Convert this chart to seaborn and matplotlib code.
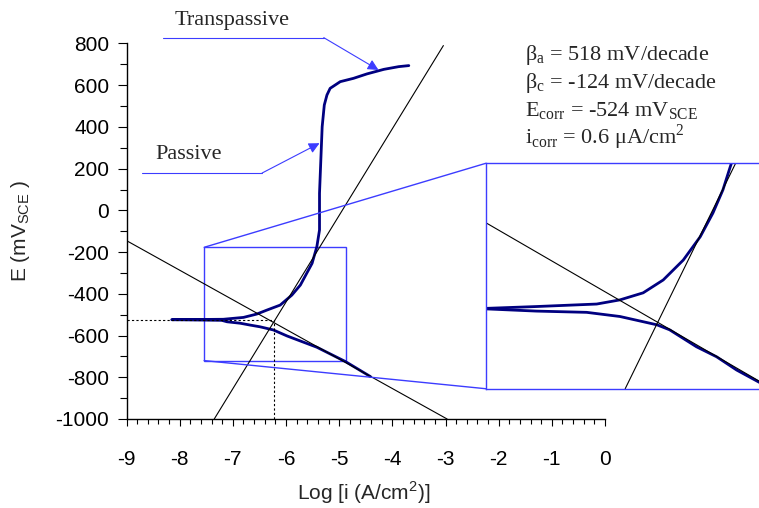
import seaborn as sns
import matplotlib.pyplot as plt
from matplotlib.patches import Rectangle, ConnectionPatch
from matplotlib.ticker import MultipleLocator

# Polarization curve (log i in A/cm2, E in mV SCE), cathodic branch then anodic
log_i = [-4.41, -4.88, -5.42, -5.98, -6.24, -6.49, -6.67, -6.86, -7.11, -7.21,
         -8.15, -7.18, -6.80, -6.55, -6.36, -6.11, -5.89, -5.73, -5.51, -5.42,
         -5.37, -5.37, -5.34, -5.32, -5.28, -5.23, -5.17, -4.98, -4.73, -4.48,
         -4.16, -3.88, -3.69]
potential = [-797, -725, -656, -602, -573, -558, -550, -541, -534, -527,
             -524, -522, -513, -497, -478, -454, -406, -358, -254, -174,
             -94, 82, 274, 401, 505, 553, 585, 617, 633, 654,
             676, 689, 694]

# Tafel lines as drawn
anodic_x = [-7.35, -3.04]
anodic_e = [-1000, 790]
cathodic_x = [-9.0, -2.97]
cathodic_e = [-145, -1000]

e_corr = -524
log_icorr = -6.22

# zoom box
zoom_x = [-7.54, -4.87]
zoom_e = [-720, -177]

# curves inside the magnified box
ins_cat_x = [-7.60, -7.06, -6.585, -6.27, -5.92, -5.80, -5.545, -5.355, -5.165, -4.955, -4.85]
ins_cat_e = [-527, -533, -536, -546, -566, -578, -619, -643, -675, -704, -718]
ins_ano_x = [-7.60, -7.06, -6.49, -6.27, -6.05, -5.86, -5.67, -5.51, -5.39, -5.295, -5.215, -5.19]
ins_ano_e = [-527, -522, -516, -506, -489, -458, -410, -354, -297, -241, -177, -160]
ins_cline_x = [-7.54, -4.80]
ins_cline_e = [-320, -724]
ins_aline_x = [-6.22, -5.175]
ins_aline_e = [-720, -177]

fit_text = [r'β$_\mathrm{a}$ = 518 mV/decade',
            r'β$_\mathrm{c}$ = -124 mV/decade',
            r'E$_\mathrm{corr}$ = -524 mV$_\mathrm{SCE}$',
            r'i$_\mathrm{corr}$ = 0.6 μA/cm$^\mathrm{2}$']

sns.set_style('ticks')
plt.rcParams['font.family'] = ['Liberation Sans', 'DejaVu Sans']
plt.rcParams['mathtext.fontset'] = 'custom'
plt.rcParams['mathtext.rm'] = 'Liberation Serif'
plt.rcParams['mathtext.sf'] = 'Liberation Sans'
plt.rcParams['axes.unicode_minus'] = False

navy = '#000080'
blue = '#3c3cff'
serif = 'Liberation Serif'

fig = plt.figure(figsize=(7.59, 5.08), dpi=100)
ax = fig.add_axes([0.1667, 0.1752, 0.6304, 0.7392])

sns.lineplot(x=log_i, y=potential, sort=False, estimator=None, color=navy, lw=2, ax=ax)
ax.plot(anodic_x, anodic_e, color='k', lw=0.8)
ax.plot(cathodic_x, cathodic_e, color='k', lw=0.8)
ax.plot([-9, log_icorr], [e_corr, e_corr], color='k', lw=0.8, ls=(0, (2, 2)))
ax.plot([log_icorr, log_icorr], [-1000, e_corr], color='k', lw=0.8, ls=(0, (2, 2)))

ax.add_patch(Rectangle((zoom_x[0], zoom_e[0]), zoom_x[1] - zoom_x[0], zoom_e[1] - zoom_e[0],
                       fill=False, ec=blue, lw=1))

ax.set_xlim(-9, 0)
ax.set_ylim(-1000, 800)
ax.xaxis.set_major_locator(MultipleLocator(1))
ax.xaxis.set_minor_locator(MultipleLocator(0.2))
ax.yaxis.set_major_locator(MultipleLocator(200))
ax.yaxis.set_minor_locator(MultipleLocator(100))
for s in ['top', 'right']:
    ax.spines[s].set_visible(False)
for s in ['left', 'bottom']:
    ax.spines[s].set_color('k')
    ax.spines[s].set_linewidth(1)
ax.tick_params(axis='x', which='major', length=5, width=0.8, pad=17, labelsize=15, color='k', labelcolor='k')
ax.tick_params(axis='x', which='minor', length=3.5, width=0.8, color='k')
ax.tick_params(axis='y', which='major', length=6.5, width=0.8, pad=6, labelsize=15, color='k', labelcolor='k')
ax.tick_params(axis='y', which='minor', length=5, width=0.8, color='k')

ax.set_xlabel(r'Log [i (A/cm$^\mathsf{2}$)]', fontsize=15)
ax.set_ylabel(r'E (mV$_\mathsf{SCE}$ )', fontsize=15)
ax.xaxis.set_label_coords(0.496, -0.16)
ax.yaxis.set_label_coords(-0.197, 0.5)

# annotations
ax.text(-7.01, 908, 'Transpassive', family=serif, fontsize=16, ha='center', va='center')
ax.plot([-8.32, -5.29], [828, 828], color=blue, lw=0.8, clip_on=False)
ax.annotate('', xy=(-4.26, 673), xytext=(-5.29, 828), annotation_clip=False,
            arrowprops=dict(arrowstyle='-|>', color=blue, lw=0.8, mutation_scale=16,
                            shrinkA=0, shrinkB=0))
ax.text(-7.84, 266, 'Passive', family=serif, fontsize=16, ha='center', va='center')
ax.plot([-8.71, -6.45], [179, 179], color=blue, lw=0.8, clip_on=False)
ax.annotate('', xy=(-5.37, 322), xytext=(-6.45, 179), annotation_clip=False,
            arrowprops=dict(arrowstyle='-|>', color=blue, lw=0.8, mutation_scale=16,
                            shrinkA=0, shrinkB=0))

for k, line in enumerate(fit_text):
    fig.text(525 / 759, 1 - [60, 88, 116, 144][k] / 508, line, family=serif, fontsize=16, va='baseline')

# magnified inset
axins = fig.add_axes([0.640, 0.2348, 0.3716, 0.4437])
sns.lineplot(x=ins_cat_x, y=ins_cat_e, sort=False, estimator=None, color=navy, lw=2, ax=axins)
sns.lineplot(x=ins_ano_x, y=ins_ano_e, sort=False, estimator=None, color=navy, lw=2, ax=axins)
axins.plot(ins_cline_x, ins_cline_e, color='k', lw=0.8)
axins.plot(ins_aline_x, ins_aline_e, color='k', lw=0.8)
axins.set_xlim(zoom_x)
axins.set_ylim(zoom_e)
axins.set_xticks([])
axins.set_yticks([])
for s in axins.spines.values():
    s.set_color(blue)
    s.set_linewidth(1)

for ey in zoom_e:
    con = ConnectionPatch(xyA=(zoom_x[0], ey), coordsA='data', axesA=ax,
                          xyB=(zoom_x[0], ey), coordsB='data', axesB=axins,
                          color=blue, lw=1)
    fig.add_artist(con)

fig.savefig('out.png', dpi=100)
